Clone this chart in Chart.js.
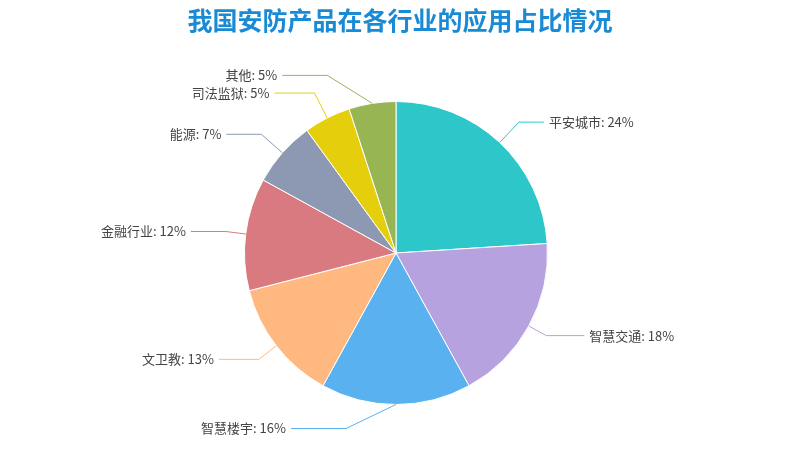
<!DOCTYPE html>
<html><head><meta charset="utf-8">
<script src="https://cdn.jsdelivr.net/npm/chart.js@4/dist/chart.umd.min.js"></script>
<style>html,body{margin:0;background:#fff}#w{width:800px;height:470px}</style>
</head><body><div id="w"><canvas id="c"></canvas></div>
<script>
const categories=['平安城市','智慧交通','智慧楼宇','文卫教','金融行业','能源','司法监狱','其他'];
const values=[24,18,16,13,12,7,5,5];
const colors=['#2ec7c9','#b6a2de','#5ab1ef','#ffb980','#d87a80','#8d98b3','#e5cf0d','#97b552'];
const extra=[28,20,28,22,20,28,28,35];
const hlen=[25,38,55,40,35,35,40,45];
const side=[1,1,-1,-1,-1,-1,-1,-1];
const labelPlug={id:'lbl',afterDatasetsDraw(ch){
  const c=ch.ctx;const meta=ch.getDatasetMeta(0);
  c.save();
  c.font='bold 25px "Noto Sans CJK SC"';c.fillStyle='#1a8ad4';c.textAlign='center';c.textBaseline='middle';
  c.fillText('我国安防产品在各行业的应用占比情况',400,20);
  c.font='13px "Noto Sans CJK SC"';c.textBaseline='middle';
  meta.data.forEach((a,i)=>{
    const m=(a.startAngle+a.endAngle)/2, r=a.outerRadius;
    const x0=a.x+Math.cos(m)*r,y0=a.y+Math.sin(m)*r;
    const e=r+extra[i];
    let x1=a.x+Math.cos(m)*e,y1=a.y+Math.sin(m)*e;
    if(i===7){x1=x0-45;y1=y0-28;}
    if(i===2){x1=x0-50;y1=y0+24;}
    const right=side[i]>0;
    const x2=x1+(right?hlen[i]:-hlen[i]);
    c.strokeStyle=colors[i];c.lineWidth=1;
    c.beginPath();c.moveTo(x0,y0);c.lineTo(x1,y1);c.lineTo(x2,y1);c.stroke();
    c.fillStyle='#444';c.textAlign=right?'left':'right';
    c.fillText(categories[i]+': '+values[i]+'%',x2+(right?5:-5),y1);
  });
  c.restore();
}};
new Chart(document.getElementById('c'),{type:'pie',
 data:{labels:categories,datasets:[{data:values,backgroundColor:colors,borderColor:'#fff',borderWidth:1}]},
 options:{responsive:true,maintainAspectRatio:false,animation:false,
  layout:{padding:{top:101,bottom:65,left:244,right:252}},
  plugins:{legend:{display:false},tooltip:{enabled:false}}},
 plugins:[labelPlug]});
</script></body></html>
